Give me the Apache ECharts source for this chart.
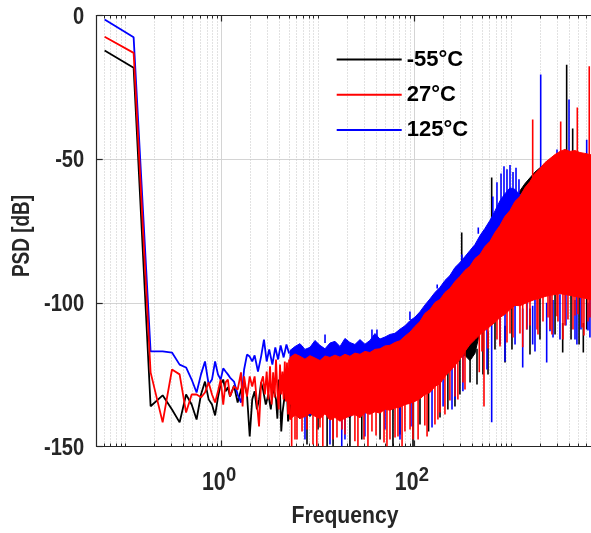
<!DOCTYPE html>
<html>
<head>
<meta charset="utf-8">
<script src="https://cdn.jsdelivr.net/npm/echarts@6/dist/echarts.min.js"></script>
<style>
  html, body { margin: 0; padding: 0; background: #fff; }
  #chart { width: 591px; height: 533px; }
</style>
</head>
<body>
<div id="chart"></div>
<script>
// ---- axis ticks -------------------------------------------------------
const X_MIN = 0.0505;
const X_MAX = 7160;
const majorTicks = [1, 100];
const xTickBase = '10';
const majorTickExp = ['0', '2'];
const minorTicks = [0.06, 0.07, 0.08, 0.09, 0.1, 0.2, 0.3, 0.4, 0.5, 0.6, 0.7, 0.8, 0.9,
  2, 3, 4, 5, 6, 7, 8, 9, 10, 20, 30, 40, 50, 60, 70, 80, 90,
  200, 300, 400, 500, 600, 700, 800, 900, 1000, 2000, 3000, 4000, 5000, 6000, 7000];
const yTicks = [-150, -100, -50, 0];
const xTitle = 'Frequency';
const yTitle = 'PSD [dB]';

// ---- low-frequency FFT bins (Hz), shared by all temperatures ---------
const binsLow = [0.061, 0.122, 0.183, 0.244, 0.305, 0.366, 0.427, 0.488, 0.549, 0.61,
  0.671, 0.732, 0.793, 0.854, 0.915, 0.976, 1.037];
const psdLowBlack = [-12.2, -18.2, -136.0, -132.2, -137.1, -141.6, -131.9, -135.4, -140.6, -131.9,
  -127.4, -133.6, -135.4, -139.2, -132.9, -128.4, -126.7];
const psdLowRed = [-7.4, -13.0, -124.2, -141.6, -123.2, -124.9, -138.2, -131.9, -131.9, -132.9,
  -131.2, -127.7, -131.9, -134.7, -130.8, -126.7, -135.4];
const psdLowBlue = [-1.4, -7.6, -116.9, -116.9, -117.3, -121.5, -122.5, -126.7, -131.2, -124.9,
  -120.4, -128.4, -126.7, -120.4, -124.9, -126.7, -122.8];

// ---- 1 Hz .. 5 Hz, individual bins ------------------------------------
const freqMidBlack = [1.098, 1.159, 1.22, 1.342, 1.464, 1.586, 1.708, 1.83, 1.952, 2.074, 2.196, 2.318,
  2.44, 2.562, 2.684, 2.867, 3.05, 3.233, 3.416, 3.66, 3.782, 3.904, 4.026, 4.148, 4.27, 4.453,
  4.636, 4.758, 4.88, 5.124];
const psdMidBlack = [-130.8, -129.4, -132.6, -128.8, -134.7, -130.2, -127.7, -131.9, -146.5, -133.6,
  -130.8, -137.1, -133.6, -127.7, -130.2, -135.4, -131.9, -137.1, -129.4, -133.6, -140.3, -126.7,
  -131.2, -144.8, -138.2, -133.6, -128.4, -130.8, -141.3, -135.4];
const freqMidRed = [1.098, 1.159, 1.22, 1.342, 1.464, 1.586, 1.647, 1.708, 1.83, 1.952, 2.074, 2.196,
  2.318, 2.44, 2.562, 2.684, 2.806, 2.928, 3.05, 3.172, 3.294, 3.416, 3.538, 3.66, 3.782, 3.904,
  4.026, 4.148, 4.27, 4.392, 4.514, 4.636, 4.758, 4.88, 5.002, 5.124];
const psdMidRed = [-127.7, -126.7, -132.6, -129.1, -130.2, -124.2, -136.1, -125.6, -132.6, -125.6,
  -129.1, -125.6, -134.7, -143.0, -127.7, -125.6, -131.9, -123.9, -133.6, -122.1, -135.4, -124.2,
  -132.9, -119.7, -130.8, -137.1, -121.5, -131.9, -123.9, -133.6, -120.4, -134.3, -120.8, -138.9,
  -119.7, -140.6];
const freqMidBlue = [1.098, 1.159, 1.22, 1.342, 1.464, 1.586, 1.708, 1.83, 1.952, 2.074, 2.196, 2.379,
  2.562, 2.745, 2.928, 3.111, 3.355, 3.599, 3.843, 4.087, 4.392, 4.697, 5.002];
const psdMidBlue = [-123.9, -124.9, -126.0, -127.4, -131.9, -134.7, -123.2, -118.0, -118.7, -120.4,
  -118.3, -123.9, -118.7, -112.8, -120.4, -116.2, -121.5, -115.5, -119.7, -114.8, -119.0, -114.5, -117.6];

// ---- above 5 Hz: per-column max / min of the dense spectrum ------------
const bandFreq = [5.11, 5.76, 6.49, 7.31, 8.24, 9.28, 10.46, 11.79, 13.28, 14.97,
  16.87, 19.0, 21.4, 24.1, 27.2, 30.6, 34.5, 38.9, 43.8, 49.4,
  55.6, 62.7, 70.6, 79.6, 89.7, 101, 114, 128, 145, 163,
  184, 207, 233, 263, 296, 334, 376, 424, 478, 538,
  607, 684, 770, 868, 978, 1102, 1242, 1400, 1577, 1777,
  2003, 2257, 2543, 2865, 3229, 3638, 4100, 4620, 5205, 5866,
  6609, 7160];
const bandHiRed = [-119.0, -117.8, -118.6, -119.6, -118.4, -119.2, -120.1, -118.5, -119.0, -118.2,
  -118.9, -117.9, -118.6, -117.5, -117.9, -116.9, -117.3, -116.2, -116.0, -115.0,
  -114.8, -113.8, -113.2, -111.6, -110.2, -108.2, -106.5, -103.7, -102.3, -99.9,
  -98.8, -96.4, -95.0, -92.6, -90.8, -88.7, -87.3, -84.6, -83.2, -80.4,
  -78.6, -75.5, -73.1, -69.9, -67.9, -64.7, -63.0, -59.9, -57.8, -55.0,
  -53.2, -51.2, -49.8, -48.4, -47.3, -46.6, -47.3, -47.0, -47.7, -48.0,
  -48.4, -48.7];
const bandLoRed = [-140.6, -139.0, -140.2, -139.6, -138.4, -139.5, -140.3, -138.6, -140.8, -139.9,
  -141.2, -140.1, -139.4, -138.9, -140.0, -138.2, -138.8, -137.9, -138.4, -137.0,
  -137.4, -136.6, -136.3, -135.4, -135.0, -134.3, -133.4, -131.9, -131.2, -129.1,
  -128.1, -125.6, -123.9, -121.8, -119.7, -116.9, -114.5, -112.8, -111.0, -109.6,
  -108.2, -106.8, -105.1, -104.0, -102.3, -100.9, -101.0, -100.2, -99.5, -98.8,
  -98.4, -97.8, -97.4, -97.1, -96.8, -97.1, -97.4, -97.8, -98.1, -98.4,
  -98.8, -99.2];
const bandHiBlue = [-116.6, -115.2, -114.2, -116.2, -115.5, -113.1, -114.8, -116.0, -114.0, -113.4,
  -115.2, -112.4, -113.8, -114.5, -112.8, -114.4, -113.1, -110.7, -112.6, -111.9,
  -111.0, -110.6, -109.2, -108.0, -106.2, -105.0, -103.1, -100.8, -98.6, -96.4,
  -94.6, -92.2, -90.5, -87.7, -86.0, -83.9, -81.8, -79.7, -76.6, -74.1,
  -71.3, -68.0, -64.5, -62.0, -60.0, -60.5, -62.5, -60.6, -59.2, -57.1,
  -54.3, -52.9, -51.2, -49.8, -48.7, -48.4, -49.1, -48.7, -49.4, -49.1,
  -49.8, -50.1];
const bandLoBlue = [-139.2, -138.2, -139.6, -137.5, -139.2, -137.1, -138.6, -137.8, -139.9, -138.6,
  -140.3, -138.9, -139.6, -137.5, -138.6, -136.8, -138.2, -136.4, -137.5, -135.7,
  -136.8, -135.0, -135.7, -134.0, -134.7, -132.9, -132.6, -130.9, -130.2, -128.1,
  -127.1, -124.6, -122.8, -120.8, -118.7, -116.2, -113.8, -112.1, -110.3, -108.9,
  -107.2, -105.8, -104.1, -103.0, -101.3, -99.9, -100.0, -99.2, -98.5, -97.8,
  -97.4, -96.8, -96.4, -96.1, -95.8, -96.1, -96.4, -96.8, -97.1, -97.4,
  -97.8, -98.2];
const bandHiBlack = [-120.4, -118.3, -121.1, -119.4, -121.5, -119.7, -121.8, -120.1, -121.1, -119.4,
  -120.8, -119.0, -120.4, -118.7, -119.7, -118.0, -119.0, -117.3, -117.6, -115.9,
  -116.6, -114.8, -115.2, -112.8, -111.7, -109.3, -107.9, -105.1, -103.7, -101.3,
  -100.2, -97.8, -96.4, -94.0, -92.2, -90.1, -88.7, -86.0, -84.6, -81.8,
  -80.0, -76.9, -74.5, -71.3, -68.5, -66.0, -61.0, -58.5, -56.5, -54.5,
  -53.0, -51.8, -50.5, -49.4, -49.1, -48.7, -49.4, -49.8, -50.1, -50.5,
  -50.8, -51.2];
const bandLoBlack = [-140.0, -138.6, -140.3, -137.8, -139.6, -137.5, -139.2, -138.2, -140.3, -138.9,
  -140.9, -139.2, -139.9, -137.8, -139.2, -137.1, -138.6, -136.8, -137.8, -136.1,
  -137.1, -135.4, -136.1, -134.3, -135.0, -133.2, -132.9, -131.2, -130.5, -128.4,
  -127.4, -124.9, -123.2, -121.1, -119.0, -118.3, -120.1, -117.6, -110.0, -108.6,
  -107.2, -105.8, -104.1, -103.0, -101.3, -99.9, -100.0, -99.2, -98.5, -97.8,
  -97.4, -96.8, -96.4, -96.1, -95.8, -96.1, -96.4, -96.8, -97.1, -97.4,
  -97.8, -98.2];

// ---- isolated peaks and dips: [frequency, from dB, to dB] ---------------
const spikesRed = [
  [1683, -58, -36.2], [3286, -48, -36.9], [4887, -48, -32.0], [6501, -49, -17.7],
  [5.32, -138, -150], [6.04, -138, -147.6], [7.67, -138, -144.1], [9.7, -138, -150],
  [11.2, -138, -150], [14.3, -138, -147.6], [19.0, -138, -145.8], [25.9, -137, -150],
  [29.9, -137, -147.6], [36.2, -136, -144.8], [51.8, -135, -150], [55.7, -135, -147.6],
  [67.4, -134, -146.5], [79.6, -133, -144.8], [96.5, -132, -147.6], [135, -129, -146.5],
  [163, -127, -142.3], [184, -126, -138.2], [233, -122, -134.0], [263, -120, -132.6],
  [318, -116, -127.7], [470, -110, -124.2], [526, -108, -136.1], [579, -107, -115.9],
  [771, -104, -115.2], [911, -102, -113.8], [979, -101, -110.7], [1326, -98, -115.5],
  [1458, -97, -109.3], [1578, -96, -107.9], [1910, -95, -111.0], [2153, -95, -106.5],
  [2545, -94, -109.3], [3009, -93, -104.7], [3640, -93, -107.9], [4625, -94, -104.4],
  [5464, -94, -108.6], [6607, -95, -105.1],
  [501, -109, -116.9], [717, -104, -112.8], [1052, -100, -112.1], [1242, -99, -110.7],
  [1866, -96, -109.3], [2427, -95, -105.1], [2667, -95, -111.0], [3076, -94, -106.5],
  [3467, -94, -112.8], [3908, -94, -105.8], [4406, -95, -109.3], [4966, -95, -104.0],
  [5728, -96, -111.4], [6306, -96, -106.5],
  [5.76, -137, -147.6], [6.81, -137, -144.8], [8.85, -137, -149.3], [10.46, -137, -143.4],
  [15.7, -138, -146.9], [17.7, -138, -144.1], [24.1, -137, -148.2], [32.9, -136, -150],
  [39.9, -136, -146.2], [48.3, -135, -148.6], [62.8, -134, -146.9], [74.3, -134, -150],
  [89.9, -133, -144.1], [109, -132, -147.6], [128, -130, -142.7], [175, -126, -140.6],
  [207, -124, -138.9], [282, -118, -133.6], [334, -115, -130.2]
];
const spikesBlue = [
  [2038, -54, -20.5], [4009, -49, -29.2], [6114, -49, -43.2], [40.8, -113, -109.3], [3009, -49, -46.6],
  [11.8, -114, -111.0], [36.2, -113, -109.3], [89.7, -106, -103.0], [172, -95, -93.6],
  [310, -85, -83.2], [459, -76, -73.8],
  [650, -70, -63.0], [717, -68, -58.0], [790, -66, -55.0], [848, -64, -52.5], [911, -63, -53.5],
  [979, -62, -52.0], [1052, -62, -54.5], [1130, -62, -53.0], [1213, -62, -57.0],
  [17.6, -137, -150], [19.0, -137, -147.6], [70.7, -134, -147.6], [92.0, -133, -143.0],
  [198, -125, -136.1], [263, -119, -133.6], [632, -106, -141.6], [869, -103, -120.4],
  [1326, -102, -122.5], [1683, -101, -114.5], [2351, -100, -120.8], [2735, -99, -112.1],
  [4625, -99, -112.8], [6306, -100, -109.6],
  [7.31, -138, -147.6], [13.28, -138, -149.3], [30.6, -136, -146.5], [49.4, -135, -144.1],
  [152, -128, -143.4], [245, -121, -137.1], [318, -117, -130.8],
  [565, -107, -123.2], [771, -103, -114.5], [1104, -100, -114.5], [1469, -99, -109.3],
  [1778, -98, -116.9], [2545, -97, -109.9], [3229, -97, -112.8], [3724, -97, -107.9],
  [4841, -97, -114.5], [5335, -98, -109.3], [6607, -98, -112.1]
];
const spikesBlack = [
  [632, -78, -56.4], [3790, -49, -17.1], [4375, -50, -39.3], [309, -91, -75.5],
  [7.67, -138, -149.3], [12.4, -138, -150], [14.3, -138, -150], [43.9, -136, -147.6],
  [59.8, -135, -150], [96.5, -132, -150], [184, -126, -139.9], [263, -120, -136.1],
  [377, -118, -127.7], [445, -116, -128.4], [579, -110, -124.9], [869, -108, -120.8],
  [1578, -102, -118.0], [3446, -107, -117.3], [5641, -107, -117.3],
  [9.98, -138, -144.1], [21.4, -138, -150], [28.4, -137, -147.6], [70.7, -135, -145.8],
  [114, -132, -142.3], [140, -130, -144.8], [222, -124, -137.1], [296, -119, -131.9],
  [513, -109, -124.9], [684, -105, -116.2], [1026, -100, -116.2], [2003, -97, -112.8],
  [2871, -96, -111.0], [4207, -97, -112.8], [5096, -97, -114.5], [6114, -98, -109.3]
];

const NAMES = ['-55\u00B0C', '27\u00B0C', '125\u00B0C'];
const COLORS = ['#000000', '#ff0000', '#0000ff'];

const regular = "'Liberation Sans', Arial, sans-serif";
const axisColor = '#262626';

function pairs(xs, ys) { return xs.map((x, i) => [x, ys[i]]); }

function traceSeries(name, color, data) {
  return {
    type: 'line', name, data, symbol: 'none', showSymbol: false, clip: true,
    lineStyle: { color, width: 1.8 }, itemStyle: { color }, z: 3
  };
}

// filled envelope between the per-column maxima and minima
function bandSeries(color, hi, lo) {
  const data = bandFreq.map((f, i) => [f, hi[i], lo[i]]);
  return {
    type: 'custom', name: color + '-band', data, clip: true, silent: true, z: 3,
    encode: { x: 0, y: [1, 2] },
    renderItem(params, api) {
      if (params.dataIndex !== 0) return null;
      const top = [], bot = [];
      for (let i = 0; i < data.length; i++) {
        top.push(api.coord([data[i][0], data[i][1]]));
        bot.push(api.coord([data[i][0], data[i][2]]));
      }
      return {
        type: 'polygon',
        shape: { points: top.concat(bot.reverse()) },
        style: { fill: color, stroke: color, lineWidth: 1 }
      };
    }
  };
}

function spikeSeries(color, spikes) {
  return {
    type: 'custom', name: color + '-spikes', data: spikes, clip: true, silent: true, z: 3,
    encode: { x: 0, y: [1, 2] },
    renderItem(params, api) {
      const a = api.coord([api.value(0), api.value(1)]);
      const b = api.coord([api.value(0), api.value(2)]);
      return {
        type: 'line',
        shape: { x1: a[0], y1: a[1], x2: b[0], y2: b[1] },
        style: { stroke: color, lineWidth: 1.6 }
      };
    }
  };
}

const logAxisBase = { type: 'log', logBase: 10, min: X_MIN, max: X_MAX, gridIndex: 0 };

const option = {
  animation: false,
  backgroundColor: '#ffffff',
  grid: { left: 96.7, top: 15.5, width: 496.6, height: 431, containLabel: false, outerBoundsMode: 'none' },
  legend: {
    data: NAMES.map(n => ({ name: n, icon: 'rect' })),
    orient: 'vertical',
    left: 336.7,
    top: 48.5,
    padding: 0,
    itemWidth: 65,
    itemHeight: 2,
    itemGap: 13.2,
    selectedMode: false,
    textStyle: { fontSize: 22, fontWeight: 'bold', fontFamily: regular, color: '#000', lineHeight: 22 }
  },
  xAxis: [
    Object.assign({}, logAxisBase, {
      position: 'bottom',
      axisLine: { show: true, onZero: false, lineStyle: { color: axisColor, width: 1.2 } },
      axisTick: { show: true, inside: true, length: 6, customValues: majorTicks, lineStyle: { color: axisColor, width: 1.2 } },
      axisLabel: { show: false },
      splitLine: { show: true, lineStyle: { color: '#d4d4d4', width: 1 } },
      minorTick: { show: false }, minorSplitLine: { show: false }
    }),
    Object.assign({}, logAxisBase, {
      position: 'top',
      axisLine: { show: true, onZero: false, lineStyle: { color: axisColor, width: 1.2 } },
      axisTick: { show: true, inside: true, length: 6, customValues: majorTicks, lineStyle: { color: axisColor, width: 1.2 } },
      axisLabel: { show: false }, splitLine: { show: false }
    }),
    Object.assign({}, logAxisBase, {
      position: 'bottom',
      axisLine: { show: false, onZero: false },
      axisTick: { show: true, inside: true, length: 3, customValues: minorTicks, lineStyle: { color: axisColor, width: 1 } },
      axisLabel: { show: false },
      splitLine: { show: true, lineStyle: { color: '#c4c4c4', width: 1, type: [1, 2] } }
    }),
    Object.assign({}, logAxisBase, {
      position: 'top',
      axisLine: { show: false, onZero: false },
      axisTick: { show: true, inside: true, length: 3, customValues: minorTicks, lineStyle: { color: axisColor, width: 1 } },
      axisLabel: { show: false }, splitLine: { show: false }
    })
  ],
  yAxis: [{
    type: 'value', min: yTicks[0], max: yTicks[yTicks.length - 1], interval: 50,
    axisLine: { show: true, onZero: false, lineStyle: { color: axisColor, width: 1.2 } },
    axisTick: { show: true, inside: true, length: 6, lineStyle: { color: axisColor, width: 1.2 } },
    axisLabel: { show: false },
    splitLine: { show: true, lineStyle: { color: '#d4d4d4', width: 1 } }
  }],
  series: [
    traceSeries(NAMES[0], COLORS[0], pairs(binsLow, psdLowBlack).concat(pairs(freqMidBlack, psdMidBlack))),
    bandSeries(COLORS[0], bandHiBlack, bandLoBlack),
    spikeSeries(COLORS[0], spikesBlack),
    traceSeries(NAMES[2], COLORS[2], pairs(binsLow, psdLowBlue).concat(pairs(freqMidBlue, psdMidBlue))),
    bandSeries(COLORS[2], bandHiBlue, bandLoBlue),
    spikeSeries(COLORS[2], spikesBlue),
    traceSeries(NAMES[1], COLORS[1], pairs(binsLow, psdLowRed).concat(pairs(freqMidRed, psdMidRed))),
    bandSeries(COLORS[1], bandHiRed, bandLoRed),
    spikeSeries(COLORS[1], spikesRed)
  ]
};

const chart = echarts.init(document.getElementById('chart'), null, { renderer: 'canvas' });
chart.setOption(option);

// Tick labels and axis titles in a compressed bold face, placed on the axes' own pixel scale
const toPx = (x, y) => chart.convertToPixel({ xAxisIndex: 0, yAxisIndex: 0 }, [x, y]);
const txt = (x, y, text, size, align, extra) => Object.assign({
  type: 'text', x, y, scaleX: 0.82, silent: true,
  style: { text, fontSize: size, fontWeight: 'bold', fontFamily: regular, fill: axisColor, align, verticalAlign: 'middle' }
}, extra || {});

const labels = [];
yTicks.forEach(v => {
  const p = toPx(X_MIN, v);
  labels.push(txt(p[0] - 12.5, p[1] + 1.5, String(v), 24.5, 'right'));
});
majorTicks.forEach((t, i) => {
  const p = toPx(t, yTicks[0]);
  labels.push(txt(p[0] + 4, p[1] + 36.5, xTickBase, 26, 'right'));
  labels.push(txt(p[0] + 4.2, p[1] + 28.5, majorTickExp[i], 20, 'left', { scaleX: 0.92 }));
});
const pl = toPx(X_MIN, yTicks[0]);
const pr = toPx(X_MAX, yTicks[0]);
labels.push(txt((pl[0] + pr[0]) / 2, pl[1] + 70, xTitle, 24.6, 'center', { scaleX: 0.86 }));
const pm = toPx(X_MIN, -75);
labels.push(txt(pm[0] - 74.7, pm[1] + 5, yTitle, 23.7, 'center', { scaleX: 0.8, rotation: Math.PI / 2 }));

chart.setOption({ graphic: { elements: labels } });
</script>
</body>
</html>
